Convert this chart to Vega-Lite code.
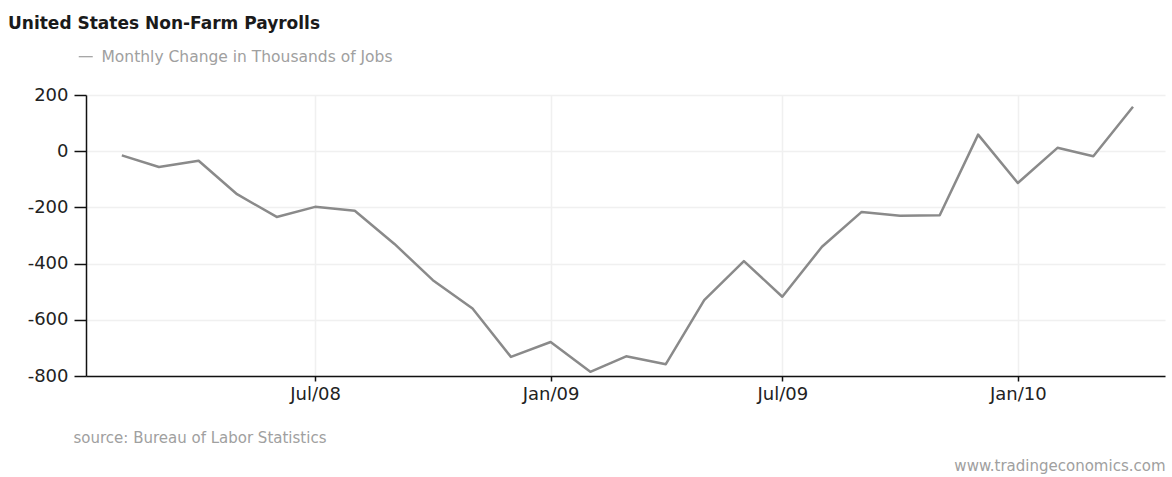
{
  "$schema": "https://vega.github.io/schema/vega-lite/v6.json",
  "width": 1079,
  "height": 281,
  "autosize": "none",
  "padding": {"left": 86, "top": 95, "right": 7, "bottom": 101},
  "background": "white",
  "title": {
    "text": "United States Non-Farm Payrolls",
    "anchor": "start",
    "frame": "group",
    "dx": -78,
    "offset": 3,
    "baseline": "alphabetic",
    "font": "DejaVu Sans",
    "fontSize": 17,
    "fontWeight": "bold",
    "color": "#1a1a1a"
  },
  "data": {
    "values": [
      {"date": "2008-02-01", "change": -15},
      {"date": "2008-03-01", "change": -56},
      {"date": "2008-04-01", "change": -34},
      {"date": "2008-05-01", "change": -153},
      {"date": "2008-06-01", "change": -234},
      {"date": "2008-07-01", "change": -198},
      {"date": "2008-08-01", "change": -212},
      {"date": "2008-09-01", "change": -330},
      {"date": "2008-10-01", "change": -459},
      {"date": "2008-11-01", "change": -560},
      {"date": "2008-12-01", "change": -732},
      {"date": "2009-01-01", "change": -679},
      {"date": "2009-02-01", "change": -785},
      {"date": "2009-03-01", "change": -730},
      {"date": "2009-04-01", "change": -758},
      {"date": "2009-05-01", "change": -530},
      {"date": "2009-06-01", "change": -391},
      {"date": "2009-07-01", "change": -518},
      {"date": "2009-08-01", "change": -340},
      {"date": "2009-09-01", "change": -216},
      {"date": "2009-10-01", "change": -230},
      {"date": "2009-11-01", "change": -228},
      {"date": "2009-12-01", "change": 59},
      {"date": "2010-01-01", "change": -113},
      {"date": "2010-02-01", "change": 12},
      {"date": "2010-03-01", "change": -18},
      {"date": "2010-04-01", "change": 158}
    ]
  },
  "mark": {"type": "line", "strokeWidth": 2.5, "strokeJoin": "round", "clip": true},
  "encoding": {
    "x": {
      "field": "date",
      "type": "temporal",
      "scale": {
        "type": "utc",
        "domain": [
          {"year": 2008, "month": 1, "date": 4, "utc": true},
          {"year": 2010, "month": 4, "date": 26, "utc": true}
        ]
      },
      "axis": {
        "values": [
          {"year": 2008, "month": 7, "date": 1, "utc": true},
          {"year": 2009, "month": 1, "date": 1, "utc": true},
          {"year": 2009, "month": 7, "date": 1, "utc": true},
          {"year": 2010, "month": 1, "date": 1, "utc": true}
        ],
        "labelExpr": "utcFormat(datum.value, '%b/%y')",
        "title": "source: Bureau of Labor Statistics",
        "titleAnchor": "start",
        "titleAlign": "left",
        "titleBaseline": "middle",
        "titleX": -13,
        "titleY": 61,
        "titleFont": "DejaVu Sans",
        "titleFontSize": 15,
        "titleFontWeight": "normal",
        "titleColor": "#a0a0a0",
        "domainColor": "#111111",
        "domainWidth": 1.5,
        "tickColor": "#111111",
        "tickSize": 5,
        "tickWidth": 1.5,
        "labelPadding": 4,
        "labelFont": "DejaVu Sans",
        "labelFontSize": 18,
        "labelColor": "#222222",
        "grid": true,
        "gridColor": "#f0f0f0",
        "gridWidth": 1.5
      }
    },
    "y": {
      "field": "change",
      "type": "quantitative",
      "scale": {"domain": [-800, 200], "nice": false, "zero": false},
      "axis": {
        "values": [-800, -600, -400, -200, 0, 200],
        "labelExpr": "'' + datum.value",
        "title": "www.tradingeconomics.com",
        "titleAngle": 0,
        "titleAlign": "right",
        "titleBaseline": "middle",
        "titleX": 1079,
        "titleY": 370,
        "titleFont": "DejaVu Sans",
        "titleFontSize": 15,
        "titleFontWeight": "normal",
        "titleColor": "#a0a0a0",
        "domainColor": "#111111",
        "domainWidth": 1.5,
        "tickColor": "#111111",
        "tickSize": 12,
        "tickWidth": 1.5,
        "labelPadding": 6,
        "labelFont": "DejaVu Sans",
        "labelFontSize": 18,
        "labelColor": "#222222",
        "grid": true,
        "gridColor": "#f0f0f0",
        "gridWidth": 1.5
      }
    },
    "color": {
      "datum": "Monthly Change in Thousands of Jobs",
      "type": "nominal",
      "scale": {"range": ["#8a8a8a"]},
      "legend": {
        "title": null,
        "orient": "none",
        "legendX": -8,
        "legendY": -46,
        "symbolType": "stroke",
        "symbolSize": 196,
        "symbolStrokeWidth": 1,
        "symbolStrokeColor": "#aaaaaa",
        "labelFont": "DejaVu Sans",
        "labelFontSize": 15.5,
        "labelColor": "#a0a0a0",
        "labelOffset": 8,
        "labelLimit": 0
      }
    }
  },
  "config": {"view": {"stroke": null}}
}
